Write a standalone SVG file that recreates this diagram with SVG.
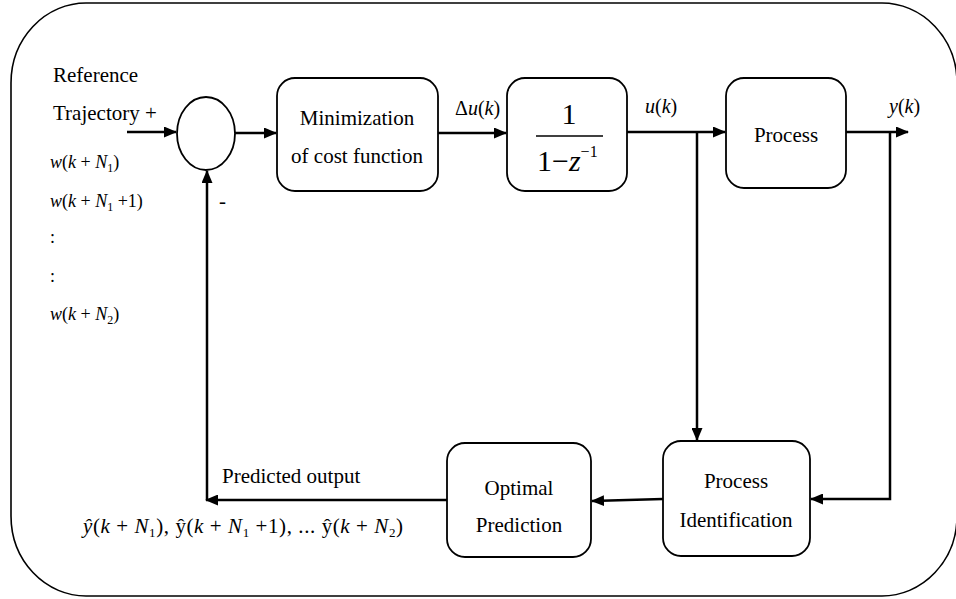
<svg xmlns="http://www.w3.org/2000/svg" width="956" height="599" viewBox="0 0 956 599" font-family="'Liberation Serif', Tinos, 'Times New Roman', Times, 'Nimbus Roman', 'Nimbus Roman No9 L', FreeSerif, 'Noto Serif', 'DejaVu Serif', serif">
  <style>
    .frame{fill:none;stroke:#000;stroke-width:1.6}
    .box{fill:#fff;stroke:#000;stroke-width:1.8}
    .wire{fill:none;stroke:#000;stroke-width:2.5}
    text{font-family:'Liberation Serif',Tinos,'Times New Roman',Times,'Nimbus Roman','Nimbus Roman No9 L',FreeSerif,'Noto Serif','DejaVu Serif',serif;fill:#000}
    .lbl{font-size:21px}
    .mid{text-anchor:middle}
    .eq{font-size:18px}
    .it{font-style:italic}
  </style>
  <defs>
    <marker id="arrow" markerUnits="userSpaceOnUse" markerWidth="13" markerHeight="11" refX="12" refY="5.5" orient="auto">
      <path d="M0,0 L13,5.5 L0,11 z" fill="#000"/>
    </marker>
  </defs>

  <rect class="frame" x="11" y="3" width="946" height="593" rx="75" ry="80"/>

  <g id="connectors">
    <path class="wire" d="M127,132 H176" marker-end="url(#arrow)"/>
    <path class="wire" d="M235,133 H276" marker-end="url(#arrow)"/>
    <path class="wire" d="M438,133 H506" marker-end="url(#arrow)"/>
    <path class="wire" d="M627,132 H725" marker-end="url(#arrow)"/>
    <path class="wire" d="M697,132 V440" marker-end="url(#arrow)"/>
    <path class="wire" d="M846,132 H908" marker-end="url(#arrow)"/>
    <path class="wire" d="M890,132 V499 H811" marker-end="url(#arrow)"/>
    <path class="wire" d="M663,499 L592,501" marker-end="url(#arrow)"/>
    <path class="wire" d="M447,500 H206" marker-end="url(#arrow)"/>
    <path class="wire" d="M207,500 V171" marker-end="url(#arrow)"/>
  </g>

  <g id="reference-input">
    <text class="lbl" x="53" y="82">Reference</text>
    <text class="lbl" x="53" y="120">Trajectory +</text>
    <text class="eq" x="50" y="168"><tspan class="it">w</tspan>(<tspan class="it">k</tspan> + <tspan class="it">N</tspan><tspan font-size="12" dy="4">1</tspan><tspan dy="-4">)</tspan></text>
    <text class="eq" x="50" y="207"><tspan class="it">w</tspan>(<tspan class="it">k</tspan> + <tspan class="it">N</tspan><tspan font-size="12" dy="4">1</tspan><tspan dy="-4"> +1)</tspan></text>
    <text class="eq" x="50" y="243">:</text>
    <text class="eq" x="50" y="282">:</text>
    <text class="eq" x="50" y="320"><tspan class="it">w</tspan>(<tspan class="it">k</tspan> + <tspan class="it">N</tspan><tspan font-size="12" dy="4">2</tspan><tspan dy="-4">)</tspan></text>
  </g>

  <g id="summing-junction">
    <ellipse class="box" cx="206" cy="133.5" rx="29" ry="36.5"/>
    <text class="lbl" x="219" y="208">-</text>
  </g>

  <g id="minimization">
    <rect class="box" x="277" y="78" width="161" height="113" rx="18"/>
    <text class="lbl mid" x="357" y="125">Minimization</text>
    <text class="lbl mid" x="357" y="163">of cost function</text>
  </g>

  <text id="delta-u" x="455" y="115" font-size="20">Δ<tspan class="it">u</tspan>(<tspan class="it">k</tspan>)</text>

  <g id="integrator">
    <rect class="box" x="507" y="78" width="120" height="113" rx="18"/>
    <text class="mid" x="569" y="124" font-size="30">1</text>
    <line x1="536" y1="136" x2="603" y2="136" stroke="#000" stroke-width="1.5"/>
    <text x="537" y="171" font-size="30">1−<tspan class="it">z</tspan><tspan font-size="16" dy="-14">−1</tspan></text>
  </g>

  <text id="u-k" x="645" y="113" font-size="20"><tspan class="it">u</tspan>(<tspan class="it">k</tspan>)</text>

  <g id="process">
    <rect class="box" x="726" y="78" width="120" height="110" rx="18"/>
    <text class="lbl mid" x="786" y="142">Process</text>
  </g>

  <text id="y-k" x="889" y="113" font-size="20"><tspan class="it">y</tspan>(<tspan class="it">k</tspan>)</text>

  <g id="process-identification">
    <rect class="box" x="663" y="441" width="147" height="115" rx="18"/>
    <text class="lbl mid" x="736" y="488">Process</text>
    <text class="lbl mid" x="736" y="527">Identification</text>
  </g>

  <g id="optimal-prediction">
    <rect class="box" x="447" y="443" width="144" height="114" rx="18"/>
    <text class="lbl mid" x="519" y="495">Optimal</text>
    <text class="lbl mid" x="519" y="532">Prediction</text>
  </g>

  <g id="predicted-output">
    <text class="lbl" x="222" y="483">Predicted output</text>
    <text x="83" y="533" font-size="21" textLength="320" lengthAdjust="spacing"><tspan class="it">ŷ</tspan>(<tspan class="it">k</tspan> + <tspan class="it">N</tspan><tspan font-size="13" dy="4">1</tspan><tspan dy="-4">), ŷ(</tspan><tspan class="it">k</tspan> + <tspan class="it">N</tspan><tspan font-size="13" dy="4">1</tspan><tspan dy="-4"> +1), ... ŷ(</tspan><tspan class="it">k</tspan> + <tspan class="it">N</tspan><tspan font-size="13" dy="4">2</tspan><tspan dy="-4">)</tspan></text>
  </g>
</svg>
